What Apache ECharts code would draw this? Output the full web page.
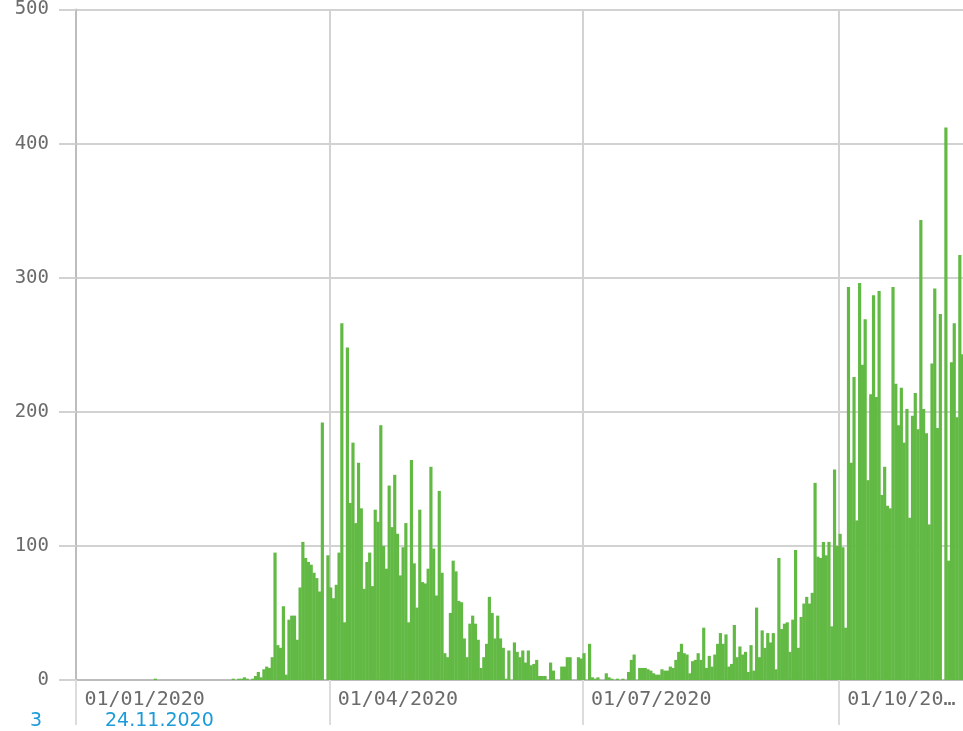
<!DOCTYPE html>
<html>
<head>
<meta charset="utf-8">
<script src="https://cdn.jsdelivr.net/npm/echarts@6/dist/echarts.min.js"></script>
<style>
  html, body { margin: 0; padding: 0; background: #fff; overflow: hidden; }
  #chart { width: 964px; height: 731px; }
</style>
</head>
<body>
<div id="chart"></div>
<script>
// Daily values, one array per month (2020)
const jan = [0,0,0,0,0,0,0,0,0,0,0,0,0,0,0,0,0,0,0,0,0,0,0,0,0,0,0,0,1,0,0];
const feb = [0,0,0,0,0,0,0,0,0,0,0,0,0,0,0,0,0,0,0,0,0,0,0,0,0,1,0,1,1];
const mar = [2,1,0,1,3,6,2,8,10,9,17,95,26,24,55,4,45,48,48,30,69,103,91,88,86,80,76,66,192,0,93];
const apr = [69,61,71,95,266,43,248,132,177,117,162,128,68,88,95,70,127,118,190,100,83,145,114,153,109,78,99,117,43,164];
const may = [87,54,127,73,72,83,159,98,63,141,80,20,17,50,89,81,59,58,31,17,42,48,42,30,9,17,27,62,50,31,48];
const jun = [31,24,1,22,0,28,21,17,22,13,22,11,12,15,3,3,3,0,13,7,0,0,10,10,17,17,0,0,17,16];
const jul = [20,0,27,2,1,2,0,0,5,2,1,0,1,0,1,0,6,15,19,0,9,9,9,8,7,5,4,4,8,7,7];
const aug = [10,9,15,21,27,20,19,5,14,15,20,15,39,9,18,10,19,27,35,27,34,10,12,41,17,25,19,21,6,26,7];
const sep = [54,17,37,24,35,28,35,8,91,38,42,43,21,45,97,24,47,57,62,57,65,147,92,91,103,93,103,40,157,100];
const oct = [109,99,39,293,162,226,119,296,235,269,149,213,287,211,290,138,159,130,128,293,221,190,218,177,202,121,197,214,187,343,202];
const nov = [184,116,236,292,188,273,0,412,89,237,266,196,317,243];

const yTicks = [0, 100, 200, 300, 400, 500];
const labelMonths = ['01', '04', '07', '10'];
const footerNumber = '3';
const footerDate = '24.11.2020';

const values = [].concat(jan, feb, mar, apr, may, jun, jul, aug, sep, oct, nov);

// category labels: one per day starting 01/01/2020
const dates = [];
(function () {
  const start = Date.UTC(2020, 0, 1);
  for (let i = 0; i < values.length; i++) {
    const d = new Date(start + i * 86400000);
    const dd = String(d.getUTCDate()).padStart(2, '0');
    const mm = String(d.getUTCMonth() + 1).padStart(2, '0');
    dates.push(dd + '/' + mm + '/' + d.getUTCFullYear());
  }
})();

const N = dates.length;
const CHART_W = 964;
const VIEW_W = 963;
const GRID_LEFT = 76, GRID_RIGHT = 0;
const band = (CHART_W - GRID_LEFT - GRID_RIGHT) / N;
const LABEL_PAD = 7;
const X_FONT = 20;
const CHAR_W = X_FONT * 0.602;

function isQuarterStart(idx, val) {
  const v = val != null ? val : dates[idx];
  return v.slice(0, 2) === '01' && labelMonths.indexOf(v.slice(3, 5)) >= 0;
}

const chart = echarts.init(document.getElementById('chart'), null, { renderer: 'canvas' });
chart.setOption({
  animation: false,
  grid: { left: GRID_LEFT, right: GRID_RIGHT, top: 9, bottom: 51, containLabel: false },
  xAxis: {
    type: 'category',
    data: dates,
    boundaryGap: true,
    axisLine: { show: true, lineStyle: { color: '#bdbdbd', width: 2 } },
    axisTick: {
      show: true,
      interval: function (i, v) { return isQuarterStart(i, v); },
      length: 45,
      lineStyle: { color: '#dcdcdc', width: 2 }
    },
    splitLine: {
      show: true,
      interval: function (i, v) { return isQuarterStart(i, v); },
      lineStyle: { color: '#d2d2d2', width: 2 }
    },
    axisLabel: {
      interval: function (i, v) { return isQuarterStart(i, v); },
      align: 'left',
      margin: 10,
      padding: [0, 0, 0, LABEL_PAD],
      fontFamily: 'DejaVu Sans Mono',
      fontSize: X_FONT,
      color: '#6b6b6b',
      formatter: function (val, idx) {
        const startX = GRID_LEFT + (idx + 0.5) * band + LABEL_PAD;
        const avail = VIEW_W - startX;
        const maxChars = Math.floor(avail / CHAR_W);
        if (val.length <= maxChars) return val;
        return val.slice(0, maxChars - 1) + '\u2026';
      }
    }
  },
  yAxis: {
    type: 'value',
    min: yTicks[0],
    max: yTicks[yTicks.length - 1],
    interval: yTicks[1] - yTicks[0],
    axisLine: { show: true, lineStyle: { color: '#bdbdbd', width: 2 } },
    axisTick: { show: true, length: 17, lineStyle: { color: '#d2d2d2', width: 2 } },
    splitLine: { show: true, lineStyle: { color: '#d2d2d2', width: 2 } },
    axisLabel: {
      margin: 27,
      fontFamily: 'DejaVu Sans Mono',
      fontSize: 19,
      color: '#6b6b6b'
    }
  },
  series: [{
    type: 'bar',
    data: values,
    barWidth: band + 0.4,
    itemStyle: { color: '#62ba45' },
    emphasis: { disabled: true }
  }],
  graphic: [
    { type: 'text', left: 30, top: 712, style: { text: footerNumber, fontFamily: 'DejaVu Sans', fontSize: 19, fill: '#1c9bd8' } },
    { type: 'text', left: 105, top: 712, style: { text: footerDate, fontFamily: 'DejaVu Sans', fontSize: 19, fill: '#1c9bd8' } }
  ]
});
</script>
</body>
</html>
